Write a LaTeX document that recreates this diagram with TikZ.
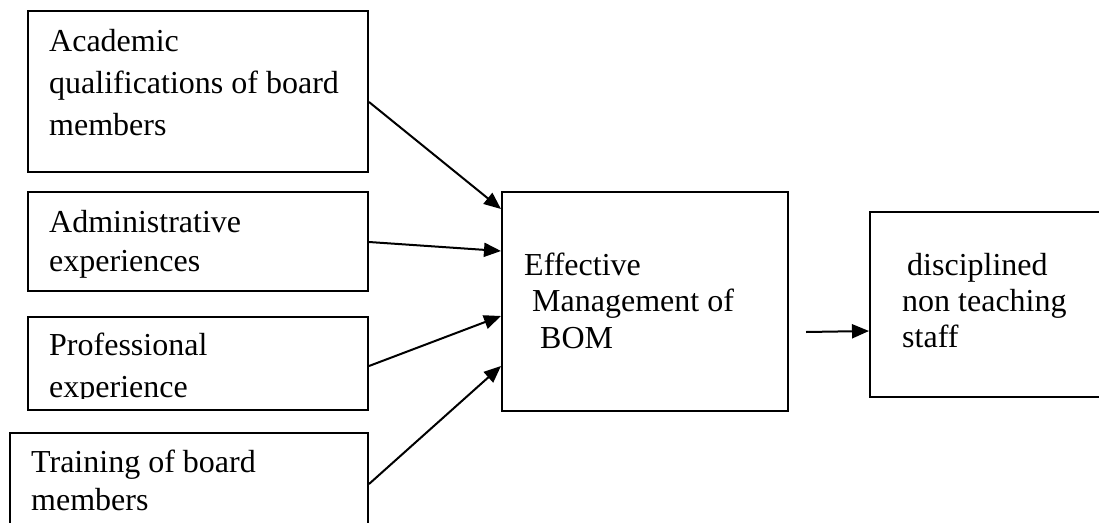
\documentclass[tikz,border=0pt]{standalone}
\usepackage{fontspec}
\setmainfont{Liberation Serif}
\usetikzlibrary{arrows.meta}
\tikzset{
  box/.style={draw, line width=2pt, rectangle, inner sep=0pt},
  txt/.style={anchor=base west, inner sep=0pt, font=\fontsize{32}{36}\selectfont},
  arr/.style={line width=2pt, -{Triangle[length=17pt,width=14pt]}}
}
\newcommand{\boxtext}[2]{\parbox[t]{#1pt}{\raggedright #2}}
\begin{document}
\begin{tikzpicture}[x=1pt,y=-1pt]
\clip (0,0) rectangle (1099,522);
\fill[white] (0,0) rectangle (1099,522);
% boxes
\node[box, minimum width=340pt, minimum height=161pt] (b1) at (198,91.5) {};
\node[box, minimum width=340pt, minimum height=99pt] (b2) at (198,241.5) {};
\node[box, minimum width=340pt, minimum height=93pt] (b3) at (198,363.5) {};
\node[box, minimum width=358pt, minimum height=107pt] (b4) at (189,486.5) {};
\node[box, minimum width=286pt, minimum height=219pt] (b5) at (645,301.5) {};
\node[box, minimum width=240pt, minimum height=185pt] (b6) at (990,304.5) {};
% texts
\node[txt] (t1) at (49,51) {\boxtext{330}{\baselineskip=42pt Academic\\qualifications of board\\members}};
\node[txt] (t2) at (49,232) {\boxtext{330}{\baselineskip=39pt Administrative\\experiences}};
\begin{scope}
\clip (0,0) rectangle (1099,398.5);
\node[txt] (t3) at (49,355) {\boxtext{330}{\baselineskip=42pt Professional\\experience}};
\end{scope}
\node[txt] (t4) at (31,472) {\boxtext{340}{\baselineskip=38pt Training of board\\members}};
\node[txt] (t5) at (524,275) {\boxtext{270}{\baselineskip=36.5pt Effective\\\hspace*{8pt}Management of\\\hspace*{16pt}BOM}};
\node[txt] (t6) at (902,275) {\boxtext{200}{\baselineskip=36pt \hspace*{5pt}disciplined\\non teaching\\staff}};
% connectors
\draw[arr] ([yshift=-92pt]b1.north east) -- ([yshift=-18pt]b5.north west);
\draw[arr] ([yshift=-51pt]b2.north east) -- ([yshift=-60pt]b5.north west);
\draw[arr] ([yshift=-50pt]b3.north east) -- ([yshift=-125pt]b5.north west);
\draw[arr] ([yshift=-52pt]b4.north east) -- ([yshift=-175pt]b5.north west);
\coordinate (s5) at (806,332);
\draw[arr] (s5) -- ([yshift=-120pt]b6.north west);
\end{tikzpicture}
\end{document}
